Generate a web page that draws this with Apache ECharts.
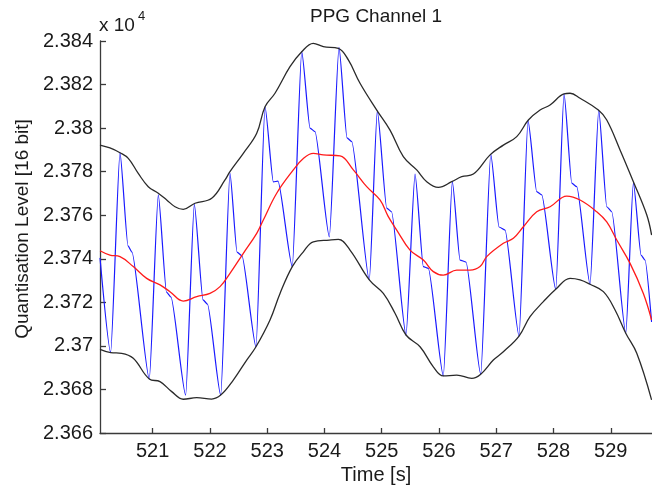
<!DOCTYPE html>
<html><head><meta charset="utf-8">
<script src="https://cdn.jsdelivr.net/npm/echarts@6/dist/echarts.min.js"></script>
<style>html,body{margin:0;padding:0;background:#fff}#c{width:652px;height:491px}</style>
</head><body><div id="c"></div>
<script>
const titleText = 'PPG Channel 1';
const xName = 'Time [s]';
const yName = 'Quantisation Level [16 bit]';
const xTicks = [521, 522, 523, 524, 525, 526, 527, 528, 529];
const yTicks = [23660, 23680, 23700, 23720, 23740, 23760, 23780, 23800, 23820, 23840];

const signalTime = [520.080, 520.266, 520.429, 520.569, 520.638, 520.941, 521.098, 521.241, 521.320, 521.576, 521.727, 521.879, 521.957, 522.188, 522.350, 522.473, 522.560, 522.804, 522.962, 523.107, 523.189, 523.438, 523.603, 523.748, 523.835, 524.085, 524.254, 524.394, 524.476, 524.783, 524.923, 525.087, 525.171, 525.424, 525.582, 525.727, 525.814, 526.076, 526.233, 526.368, 526.472, 526.729, 526.904, 527.049, 527.154, 527.398, 527.555, 527.707, 527.795, 528.039, 528.184, 528.319, 528.406, 528.638, 528.790, 528.930, 529.017, 529.262, 529.395, 529.529, 529.599, 529.713];
const signalValue = [23740.4, 23697.0, 23788.7, 23745.9, 23743.1, 23684.8, 23769.3, 23724.7, 23722.4, 23677.4, 23765.0, 23721.1, 23719.2, 23677.4, 23779.2, 23743.1, 23741.3, 23699.6, 23809.8, 23775.3, 23775.7, 23736.4, 23835.1, 23800.0, 23798.4, 23750.1, 23837.1, 23795.5, 23793.8, 23730.3, 23807.9, 23763.3, 23761.6, 23705.0, 23778.9, 23736.4, 23735.6, 23686.2, 23775.4, 23739.4, 23738.5, 23687.0, 23788.0, 23754.6, 23753.2, 23704.5, 23803.4, 23770.8, 23769.3, 23726.0, 23815.7, 23774.7, 23773.1, 23728.3, 23808.3, 23763.9, 23761.6, 23705.8, 23774.9, 23741.7, 23739.4, 23711.0];

const upperTime = [520.080, 520.254, 520.429, 520.574, 520.748, 520.923, 521.098, 521.245, 521.390, 521.534, 521.739, 522.031, 522.263, 522.350, 522.583, 522.817, 522.962, 523.136, 523.398, 523.603, 523.805, 523.980, 524.242, 524.417, 524.621, 524.913, 525.145, 525.377, 525.611, 525.786, 525.989, 526.223, 526.397, 526.600, 526.892, 527.124, 527.358, 527.561, 527.765, 527.940, 528.184, 528.289, 528.464, 528.783, 528.930, 529.162, 529.395, 529.629, 529.713];
const upperValue = [23792.2, 23790.9, 23788.7, 23786.1, 23779.2, 23773.1, 23770.1, 23767.0, 23763.9, 23762.7, 23765.5, 23767.8, 23776.2, 23780.0, 23788.4, 23797.6, 23809.8, 23816.0, 23828.2, 23835.1, 23838.9, 23837.4, 23836.6, 23831.3, 23820.6, 23808.3, 23799.1, 23786.9, 23780.8, 23775.4, 23772.8, 23775.4, 23777.7, 23778.9, 23787.7, 23792.2, 23796.1, 23803.7, 23808.3, 23810.6, 23815.7, 23816.0, 23813.7, 23808.3, 23803.7, 23790.0, 23775.4, 23760.1, 23750.9];

const lowerTime = [520.080, 520.266, 520.459, 520.661, 520.941, 521.128, 521.332, 521.534, 521.769, 522.031, 522.188, 522.408, 522.642, 522.804, 523.049, 523.224, 523.438, 523.631, 523.805, 524.085, 524.242, 524.446, 524.783, 525.028, 525.232, 525.424, 525.669, 525.901, 526.076, 526.310, 526.572, 526.729, 526.949, 527.124, 527.398, 527.590, 527.823, 528.039, 528.289, 528.464, 528.638, 528.871, 529.075, 529.262, 529.454, 529.713];
const lowerValue = [23698.4, 23696.9, 23696.6, 23694.3, 23684.8, 23683.6, 23679.0, 23675.5, 23676.2, 23675.6, 23677.4, 23684.3, 23693.5, 23699.6, 23711.9, 23724.1, 23736.4, 23743.2, 23747.8, 23748.6, 23748.9, 23744.0, 23730.3, 23724.1, 23715.0, 23705.0, 23699.6, 23690.4, 23686.2, 23686.6, 23685.1, 23687.0, 23693.5, 23697.3, 23704.5, 23713.4, 23720.3, 23726.0, 23731.0, 23730.3, 23728.3, 23724.9, 23716.5, 23705.8, 23696.6, 23675.2];

const meanTime = [520.080, 520.254, 520.429, 520.661, 520.895, 521.128, 521.302, 521.534, 521.769, 522.001, 522.176, 522.350, 522.583, 522.817, 522.932, 523.166, 523.456, 523.631, 523.805, 523.980, 524.272, 524.504, 524.738, 524.970, 525.110, 525.262, 525.494, 525.727, 525.901, 526.076, 526.310, 526.542, 526.717, 526.834, 527.124, 527.299, 527.473, 527.707, 527.940, 528.231, 528.464, 528.755, 528.930, 529.105, 529.337, 529.569, 529.713];
const meanValue = [23743.7, 23741.7, 23741.0, 23736.4, 23731.0, 23728.0, 23724.9, 23720.6, 23722.6, 23724.1, 23727.2, 23733.3, 23742.5, 23751.7, 23757.8, 23770.1, 23780.8, 23786.1, 23788.4, 23787.7, 23787.2, 23780.8, 23773.1, 23767.0, 23759.6, 23753.2, 23744.0, 23739.4, 23734.1, 23732.5, 23734.8, 23734.8, 23736.4, 23741.0, 23747.1, 23749.4, 23754.7, 23761.6, 23763.9, 23768.8, 23767.0, 23761.6, 23756.9, 23748.6, 23737.9, 23724.1, 23711.9];

const zip = (a, b) => a.map((v, i) => [v, b[i]]);
const FONT = "'Liberation Sans', Arial, sans-serif";
const chart = echarts.init(document.getElementById('c'), null, {renderer: 'canvas'});
chart.setOption({
  animation: false,
  backgroundColor: '#fff',
  grid: {left: 100, right: 0, top: 41, bottom: 58, containLabel: false, outerBoundsMode: 'none'},
  xAxis: {
    type: 'value', min: 520.08, max: 529.72,
    name: xName, nameLocation: 'middle', nameGap: 31,
    nameTextStyle: {fontFamily: FONT, fontSize: 20, color: '#1a1a1a'},
    axisLine: {show: true, onZero: false, lineStyle: {color: '#3a3a3a', width: 1.3}},
    axisTick: {show: true, inside: true, length: 5, customValues: xTicks, lineStyle: {color: '#3a3a3a', width: 1.3}},
    axisLabel: {customValues: xTicks, margin: 8, fontFamily: FONT, fontSize: 20, color: '#1a1a1a'},
    splitLine: {show: false}
  },
  yAxis: {
    type: 'value', min: yTicks[0], max: yTicks[yTicks.length - 1], interval: 20,
    axisLine: {show: true, onZero: false, lineStyle: {color: '#3a3a3a', width: 1.3}},
    axisTick: {show: true, inside: true, length: 6, lineStyle: {color: '#3a3a3a', width: 1.3}},
    axisLabel: {margin: 7, fontFamily: FONT, fontSize: 20, color: '#1a1a1a',
      formatter: v => String(parseFloat((v / 10000).toFixed(3)))},
    splitLine: {show: false}
  },
  graphic: [
    {type: 'text', x: 376, y: 17, style: {text: titleText, textAlign: 'center', textVerticalAlign: 'middle', font: '19px ' + FONT, fill: '#1a1a1a'}},
    {type: 'text', x: 99, y: 26, style: {text: 'x 10', textAlign: 'left', textVerticalAlign: 'middle', font: '19px ' + FONT, fill: '#1a1a1a'}},
    {type: 'text', x: 138, y: 16, style: {text: '4', textAlign: 'left', textVerticalAlign: 'middle', font: '13px ' + FONT, fill: '#1a1a1a'}},
    {type: 'text', x: 23, y: 229, rotation: Math.PI / 2, style: {text: yName, textAlign: 'center', textVerticalAlign: 'middle', font: '19px ' + FONT, fill: '#1a1a1a'}}
  ],
  series: [
    {type: 'line', data: zip(signalTime, signalValue), showSymbol: false, symbol: 'none', smooth: 0.2, smoothMonotone: 'x', lineStyle: {color: '#1a1aff', width: 1.2}, clip: true, z: 2},
    {type: 'line', data: zip(meanTime, meanValue), showSymbol: false, symbol: 'none', smooth: 0.4, lineStyle: {color: '#ff1a1a', width: 1.3}, clip: true, z: 3},
    {type: 'line', data: zip(upperTime, upperValue), showSymbol: false, symbol: 'none', smooth: 0.4, lineStyle: {color: '#2a2a2a', width: 1.3}, clip: true, z: 4},
    {type: 'line', data: zip(lowerTime, lowerValue), showSymbol: false, symbol: 'none', smooth: 0.4, lineStyle: {color: '#2a2a2a', width: 1.3}, clip: true, z: 4}
  ]
});
</script>
</body></html>
